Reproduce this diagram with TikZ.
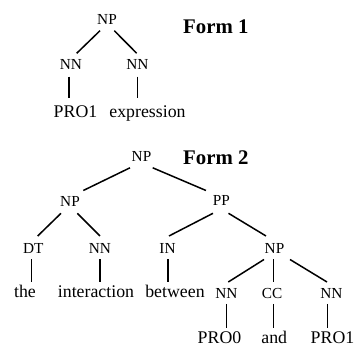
\documentclass[tikz,border=0pt]{standalone}
\usepackage{fontspec}
\setmainfont{Liberation Serif}
\begin{document}
\begin{tikzpicture}[x=1pt,y=-1pt,
  tag/.style={anchor=base,inner sep=0pt,font=\fontsize{15.3}{18}\selectfont},
  leaf/.style={anchor=base,inner sep=0pt,font=\fontsize{17.8}{21}\selectfont},
  title/.style={anchor=base west,inner sep=0pt,font=\fontsize{20.8}{24}\selectfont\bfseries},
  edge/.style={line width=1.5pt}]
\useasboundingbox (0,0) rectangle (354,347);
% Form 1
\node[title] (f1) at (183,33.3) {Form 1};
\node[tag] (a) at (107,25) {NP};
\node[tag] (ana) at (71,70) {NN};
\node[tag] (anb) at (137.5,70) {NN};
\node[leaf] (apro) at (75.5,118) {PRO1};
\node[leaf] (aexp) at (147.5,118) {expression};
\draw[edge] ([shift={(-7,5.7)}]a.base) -- ([shift={(5.7,-16.7)}]ana.base);
\draw[edge] ([shift={(7.3,5.7)}]a.base) -- ([shift={(-0.8,-16.7)}]anb.base);
\draw[edge] ([shift={(-2,6.7)}]ana.base) -- ([shift={(-6.5,-19.7)}]apro.base);
\draw[edge] ([shift={(0.2,6.7)}]anb.base) -- ([shift={(-9.8,-19.7)}]aexp.base);
% Form 2
\node[title] (f2) at (183,165) {Form 2};
\node[tag] (b) at (141.5,161.5) {NP};
\node[tag] (bnp) at (70,206.5) {NP};
\node[tag] (bpp) at (221.5,206) {PP};
\node[tag] (bdt) at (33.3,253.3) {DT};
\node[tag] (bnn) at (100,253.3) {NN};
\node[tag] (bin) at (167.5,253.3) {IN};
\node[tag] (bnp2) at (274.5,253.3) {NP};
\node[leaf] (the) at (25,298) {the};
\node[leaf] (inter) at (96,298) {interaction};
\node[leaf] (betw) at (175,298) {between};
\node[tag] (cnn1) at (226.5,298.3) {NN};
\node[tag] (ccc) at (272,298.3) {CC};
\node[tag] (cnn2) at (331.3,298.3) {NN};
\node[leaf] (pro0) at (219.5,344) {PRO0};
\node[leaf] (and) at (274.2,344) {and};
\node[leaf] (pro1) at (332.5,344) {PRO1};
\draw[edge] ([shift={(-11.5,6.3)}]b.base) -- ([shift={(13.3,-16)}]bnp.base);
\draw[edge] ([shift={(11.2,6.3)}]b.base) -- ([shift={(-15.5,-15.5)}]bpp.base);
\draw[edge] ([shift={(-9,6.8)}]bnp.base) -- ([shift={(4.4,-17.3)}]bdt.base);
\draw[edge] ([shift={(7.3,6.8)}]bnp.base) -- ([shift={(0,-17.3)}]bnn.base);
\draw[edge] ([shift={(-8.5,7.3)}]bpp.base) -- ([shift={(1.5,-17.3)}]bin.base);
\draw[edge] ([shift={(7,7.3)}]bpp.base) -- ([shift={(-8.5,-17.3)}]bnp2.base);
\draw[edge] ([shift={(-1.6,6.2)}]bdt.base) -- ([shift={(6.7,-15.5)}]the.base);
\draw[edge] ([shift={(0,6.2)}]bnn.base) -- ([shift={(4,-15.5)}]inter.base);
\draw[edge] ([shift={(0.5,6.2)}]bin.base) -- ([shift={(-7,-15.5)}]betw.base);
\draw[edge] ([shift={(-10.5,6.2)}]bnp2.base) -- ([shift={(1.8,-16.3)}]cnn1.base);
\draw[edge] ([shift={(-1,6.2)}]bnp2.base) -- ([shift={(1.5,-16.3)}]ccc.base);
\draw[edge] ([shift={(15.5,6.2)}]bnp2.base) -- ([shift={(-4.3,-16.3)}]cnn2.base);
\draw[edge] ([shift={(0.2,5.7)}]cnn1.base) -- ([shift={(7.2,-15.7)}]pro0.base);
\draw[edge] ([shift={(1.3,5.7)}]ccc.base) -- ([shift={(-0.9,-15.7)}]and.base);
\draw[edge] ([shift={(-4,5.7)}]cnn2.base) -- ([shift={(-5.2,-15.7)}]pro1.base);
\end{tikzpicture}
\end{document}
